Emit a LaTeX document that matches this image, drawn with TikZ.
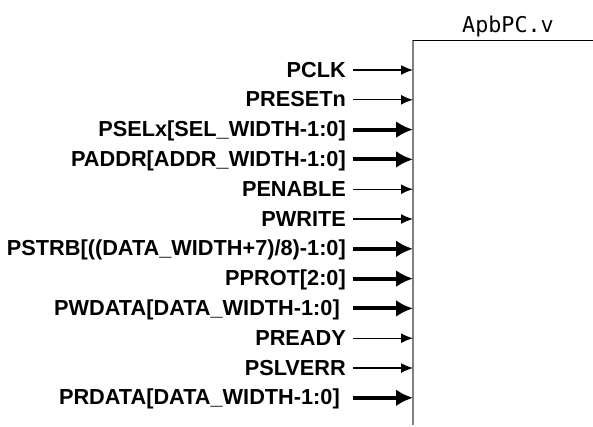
\documentclass[tikz,border=0pt]{standalone}
\usepackage{fontspec}
\setsansfont{Liberation Sans}
\newfontfamily\monofont{DejaVu Sans Mono}
\usetikzlibrary{arrows.meta}
\tikzset{
  sig/.style={line width=1.3bp, -{Latex[length=12bp,width=10bp]}},
  bus/.style={line width=4bp, -{Latex[length=17bp,width=17bp]}},
  lbl/.style={anchor=east, inner sep=0pt, text height=14bp, text depth=0pt,
    font=\sffamily\bfseries\fontsize{21.8}{24}\selectfont},
}
\begin{document}
\begin{tikzpicture}[x=1bp, y=-1bp]
\useasboundingbox (0,0) rectangle (593,426);
% Modulo ApbPC
\coordinate (modulo) at (413,40);
\draw[gray, line width=1.3bp] (modulo) -- ++(0,385);
\draw[line width=1bp] (modulo) -- ++(180,0);
\node[font=\monofont\fontsize{21.8}{24}\selectfont, anchor=base] (titulo) at (508,32) {ApbPC.v};
% Sinais de entrada
\node[lbl] (pclk) at (346,70) {PCLK};
\node[lbl] (presetn) at (346,99.8) {PRESETn};
\node[lbl] (psel) at (346,129.6) {PSELx[SEL\_WIDTH-1:0]};
\node[lbl] (paddr) at (346,159.4) {PADDR[ADDR\_WIDTH-1:0]};
\node[lbl] (penable) at (346,189.2) {PENABLE};
\node[lbl] (pwrite) at (346,219) {PWRITE};
\node[lbl] (pstrb) at (346,248.8) {PSTRB[((DATA\_WIDTH+7)/8)-1:0]};
\node[lbl] (pprot) at (346,278.6) {PPROT[2:0]};
\node[lbl] (pwdata) at (346,308.4) {PWDATA[DATA\_WIDTH-1:0]\kern0.278em};
\node[lbl] (pready) at (346,338.2) {PREADY};
\node[lbl] (pslverr) at (346,368) {PSLVERR};
\node[lbl] (prdata) at (346,397.8) {PRDATA[DATA\_WIDTH-1:0]\kern0.278em};
% Setas
\draw[sig] ([xshift=7bp]pclk.east) -- (pclk.east -| modulo);
\draw[sig] ([xshift=7bp]presetn.east) -- (presetn.east -| modulo);
\draw[bus] ([xshift=7bp]psel.east) -- (psel.east -| modulo);
\draw[bus] ([xshift=7bp]paddr.east) -- (paddr.east -| modulo);
\draw[sig] ([xshift=7bp]penable.east) -- (penable.east -| modulo);
\draw[sig] ([xshift=7bp]pwrite.east) -- (pwrite.east -| modulo);
\draw[bus] ([xshift=7bp]pstrb.east) -- (pstrb.east -| modulo);
\draw[bus] ([xshift=7bp]pprot.east) -- (pprot.east -| modulo);
\draw[bus] ([xshift=7bp]pwdata.east) -- (pwdata.east -| modulo);
\draw[sig] ([xshift=7bp]pready.east) -- (pready.east -| modulo);
\draw[sig] ([xshift=7bp]pslverr.east) -- (pslverr.east -| modulo);
\draw[bus] ([xshift=7bp]prdata.east) -- (prdata.east -| modulo);
\end{tikzpicture}
\end{document}
